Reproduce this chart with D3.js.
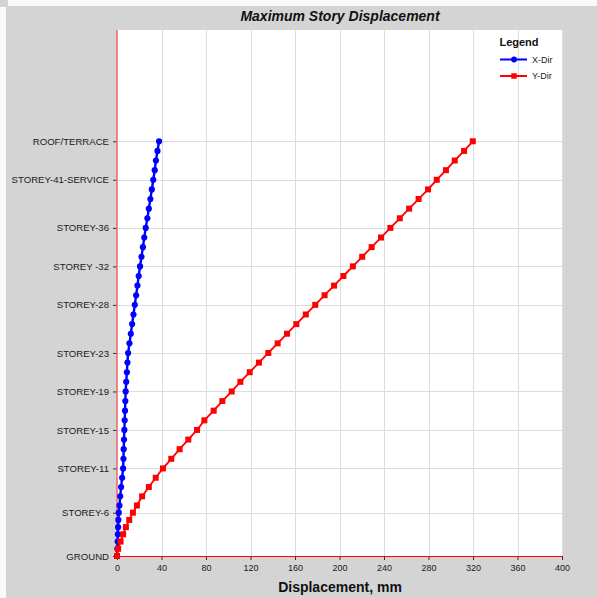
<!DOCTYPE html>
<html>
<head>
<meta charset="utf-8">
<script src="https://cdn.jsdelivr.net/npm/d3@7"></script>
<style>
  html, body { margin: 0; padding: 0; background: #fff; }
  svg { display: block; font-family: "Liberation Sans", Arial, sans-serif; }
</style>
</head>
<body>
<figure id="chart" style="margin:0"></figure>
<script>
// storey levels, bottom to top
const levels = [
  "GROUND", "STOREY-1", "STOREY-2", "STOREY-3", "STOREY-4", "STOREY-5", "STOREY-6",
  "STOREY-7", "STOREY-8", "STOREY-9", "STOREY-10", "STOREY-11", "STOREY-12", "STOREY-13",
  "STOREY-14", "STOREY-15", "STOREY-16", "STOREY-17", "STOREY-18", "STOREY-19", "STOREY-20",
  "STOREY-21", "STOREY-22", "STOREY-23", "STOREY-24", "STOREY-25", "STOREY-26", "STOREY-27",
  "STOREY-28", "STOREY-29", "STOREY-30", "STOREY-31", "STOREY -32", "STOREY-33", "STOREY-34",
  "STOREY-35", "STOREY-36", "STOREY-37", "STOREY-38", "STOREY-39", "STOREY-40",
  "STOREY-41-SERVICE", "STOREY-42", "STOREY-43", "STOREY-44", "ROOF/TERRACE"
];

// level elevation (m)
const elevation = [
  0, 2.25, 4.5, 6.75, 9.0, 11.25, 13.5, 15.75, 18.6, 21.5, 24.4, 27.3, 30.3, 33.3,
  36.3, 39.3, 42.3, 45.3, 48.3, 51.3, 54.3, 57.3, 60.3, 63.3, 66.3, 69.3, 72.3, 75.3,
  78.3, 81.3, 84.3, 87.3, 90.3, 93.3, 96.3, 99.3, 102.3, 105.3, 108.3, 111.3, 114.3,
  117.3, 120.3, 123.3, 126.3, 129.3
];

// max displacement (mm)
const xDir = [
  0, 0.3, 0.6, 0.8, 1.0, 1.2, 1.6, 2.2, 2.9, 3.7, 4.6, 5.5, 5.8, 6.0,
  6.3, 6.6, 6.9, 7.2, 7.5, 7.8, 8.3, 8.9, 9.4, 10.0, 11.2, 12.4, 13.6, 14.8,
  16.0, 17.2, 18.4, 19.5, 20.7, 22.0, 23.3, 24.5, 25.8, 27.3, 28.6, 30.0, 31.3,
  32.6, 33.9, 35.0, 36.4, 37.8
];
const yDir = [
  0, 1.0, 3.2, 5.5, 8.0, 11.0, 14.3, 17.9, 22.6, 28.6, 34.8, 41.3, 48.8, 56.3,
  64.1, 71.9, 78.5, 86.9, 94.7, 103.1, 110.9, 119.3, 127.6, 136.0, 144.4, 152.8, 161.2, 169.7,
  178.2, 186.6, 195.1, 203.5, 212.0, 220.4, 228.9, 237.3, 245.7, 254.2, 262.6, 271.1, 279.6,
  287.4, 295.7, 303.6, 312.0, 319.8
];

const labelledLevels = [
  "GROUND", "STOREY-6", "STOREY-11", "STOREY-15", "STOREY-19", "STOREY-23",
  "STOREY-28", "STOREY -32", "STOREY-36", "STOREY-41-SERVICE", "ROOF/TERRACE"
];
const xTicks = [0, 40, 80, 120, 160, 200, 240, 280, 320, 360, 400];

const width = 597, height = 598;
const margin = {top: 30, right: 35, bottom: 42, left: 117};
const plotW = width - margin.left - margin.right;
const plotH = height - margin.top - margin.bottom;

const svg = d3.select("#chart").append("svg")
  .attr("width", width)
  .attr("height", height);

// backdrop
svg.append("rect").attr("width", width).attr("height", height).attr("fill", "#fafafa");
svg.append("rect").attr("x", 6).attr("y", 6).attr("width", width - 6).attr("height", height - 6).attr("fill", "#d4d4d4");
svg.append("rect").attr("width", 8).attr("height", 7).attr("fill", "#d4d4d4");

svg.append("text")
  .attr("x", 340).attr("y", 21)
  .attr("text-anchor", "middle")
  .style("font-size", "14px").style("font-weight", "bold").style("font-style", "italic")
  .attr("fill", "#111")
  .text("Maximum Story Displacement");

const g = svg.append("g").attr("transform", `translate(${margin.left},${margin.top})`);

g.append("rect").attr("width", plotW).attr("height", plotH).attr("fill", "#fff");

const x = d3.scaleLinear().domain([0, 400]).range([0, plotW]);
const y = d3.scaleLinear().domain([0, 164]).range([plotH, 0]);

const elevOf = name => elevation[levels.indexOf(name)];
const tickElev = labelledLevels.map(elevOf);

// grid
g.append("g").selectAll("line").data(xTicks.slice(1))
  .join("line")
  .attr("x1", d => Math.round(x(d)) + 0.5).attr("x2", d => Math.round(x(d)) + 0.5)
  .attr("y1", 0).attr("y2", plotH)
  .attr("stroke", "#dcdcdc");
g.append("g").selectAll("line").data(tickElev.slice(1))
  .join("line")
  .attr("x1", 0).attr("x2", plotW)
  .attr("y1", d => Math.round(y(d)) + 0.5).attr("y2", d => Math.round(y(d)) + 0.5)
  .attr("stroke", "#dcdcdc");

// axes
const xAxis = g.append("g")
  .attr("transform", `translate(0,${plotH})`)
  .call(d3.axisBottom(x).tickValues(xTicks).tickSize(4).tickPadding(5));
const yAxis = g.append("g")
  .call(d3.axisLeft(y).tickValues(tickElev).tickSize(4).tickPadding(4)
    .tickFormat(e => levels[elevation.indexOf(e)]));

[xAxis, yAxis].forEach(a => {
  a.select(".domain").remove();
  a.selectAll(".tick line").attr("stroke", "#333");
  a.selectAll(".tick text").attr("fill", "#1a1a1a").style("font-size", "9px")
    .style("font-family", "'Liberation Sans', Arial, sans-serif");
});
yAxis.selectAll(".tick text").style("font-size", "9.6px");

g.append("line").attr("x1", 0).attr("x2", 0).attr("y1", 0).attr("y2", plotH)
  .attr("stroke", "#ee6e6e").attr("stroke-width", 1.6);
g.append("line").attr("x1", 0).attr("x2", plotW).attr("y1", plotH + 0.5).attr("y2", plotH + 0.5)
  .attr("stroke", "#ff0000");

svg.append("text")
  .attr("x", 340).attr("y", 592)
  .attr("text-anchor", "middle")
  .style("font-size", "14px").style("font-weight", "bold")
  .attr("fill", "#111")
  .text("Displacement, mm");

// series
const series = [
  {name: "X-Dir", values: xDir, color: "#0000ff", marker: "circle"},
  {name: "Y-Dir", values: yDir, color: "#ff0000", marker: "square"}
];

series.forEach(s => {
  const pts = s.values.map((v, i) => [v, elevation[i]]);
  g.append("path")
    .datum(pts)
    .attr("fill", "none")
    .attr("stroke", s.color)
    .attr("stroke-width", s.marker === "circle" ? 2.4 : 1.8)
    .attr("d", d3.line().x(d => x(d[0])).y(d => y(d[1])));
  g.append("g").selectAll("path").data(pts).join("path")
    .attr("transform", d => `translate(${x(d[0])},${y(d[1])})`)
    .attr("fill", s.color)
    .attr("d", d3.symbol(s.marker === "circle" ? d3.symbolCircle : d3.symbolSquare,
      s.marker === "circle" ? 30 : 36)());
});

// legend
const lg = svg.append("g").attr("transform", "translate(500,0)");
lg.append("text").attr("x", 19).attr("y", 46).attr("text-anchor", "middle")
  .style("font-size", "11px").style("font-weight", "bold").attr("fill", "#111").text("Legend");
series.forEach((s, i) => {
  const ly = 59.5 + i * 16.5;
  lg.append("line").attr("x1", 0).attr("x2", 27).attr("y1", ly).attr("y2", ly)
    .attr("stroke", s.color).attr("stroke-width", 2);
  lg.append("path").attr("transform", `translate(14,${ly})`).attr("fill", s.color)
    .attr("d", d3.symbol(s.marker === "circle" ? d3.symbolCircle : d3.symbolSquare,
      s.marker === "circle" ? 26 : 30)());
  lg.append("text").attr("x", 32).attr("y", ly + 3.3)
    .style("font-size", "9px").attr("fill", "#222").text(s.name);
});
</script>
</body>
</html>
